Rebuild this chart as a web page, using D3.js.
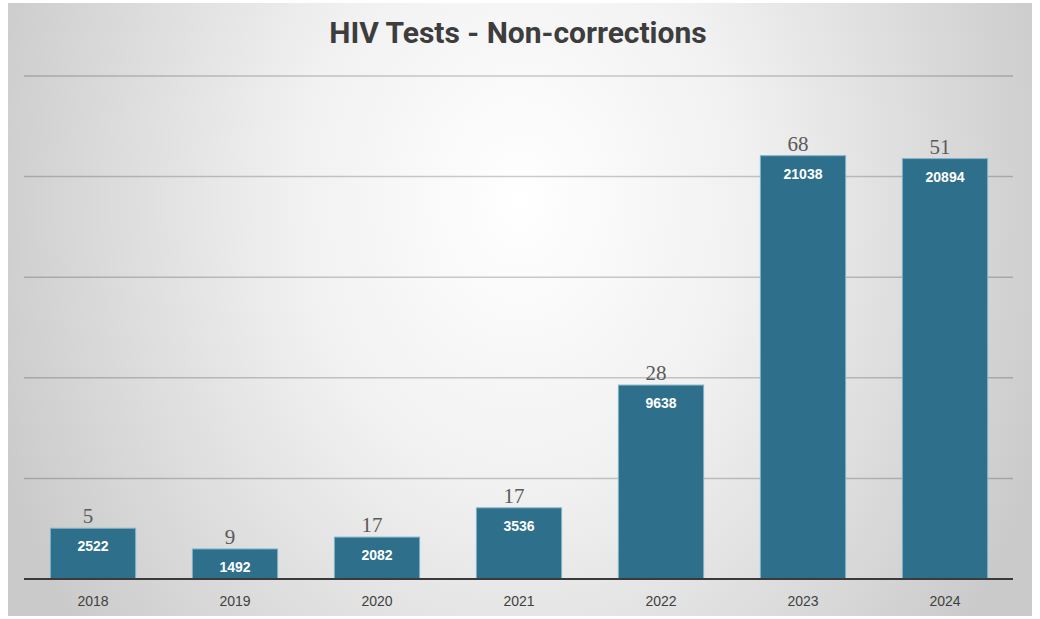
<!DOCTYPE html>
<html>
<head>
<meta charset="utf-8">
<script src="https://cdn.jsdelivr.net/npm/d3@7"></script>
<style>
  body { margin: 0; background: #fff; }
</style>
</head>
<body>
<div id="chart"></div>
<script>
let years = ["2018", "2019", "2020", "2021", "2022", "2023", "2024"]
let tests = [2522, 1492, 2082, 3536, 9638, 21038, 20894]
let positives = [5, 9, 17, 17, 28, 68, 51]
let gridValues = [5000, 10000, 15000, 20000, 25000]

let width = 1040
let height = 619

let svg = d3.select('#chart')
            .append('svg')
            .attr('width', width)
            .attr('height', height)

// soft radial backdrop, white near the top centre
let defs = svg.append('defs')
let grad = defs.append('radialGradient')
    .attr('id', 'bg')
    .attr('gradientUnits', 'userSpaceOnUse')
    .attr('cx', 0).attr('cy', 0).attr('r', 1)
    .attr('gradientTransform', 'translate(520,200) scale(560,720)')
grad.append('stop').attr('offset', '0%').attr('stop-color', '#ffffff')
grad.append('stop').attr('offset', '40%').attr('stop-color', '#f1f1f1')
grad.append('stop').attr('offset', '100%').attr('stop-color', '#cacaca')

svg.append('rect')
    .attr('x', 8).attr('y', 3)
    .attr('width', 1024).attr('height', 613)
    .attr('fill', 'url(#bg)')

let x = d3.scaleBand()
    .domain(years)
    .range([22, 1016])
    .paddingInner(0.4)
    .paddingOuter(0.2)

let y = d3.scaleLinear()
    .domain([0, 25000])
    .range([579, 76])

// gridlines
svg.append('g')
    .selectAll('line')
    .data(gridValues)
    .enter()
    .append('line')
    .attr('x1', 24).attr('x2', 1013)
    .attr('y1', d => y(d)).attr('y2', d => y(d))
    .attr('stroke', 'rgba(0,0,0,0.2)')
    .attr('stroke-width', 1.5)

// title
svg.append('text')
    .attr('x', 518)
    .attr('y', 43)
    .attr('text-anchor', 'middle')
    .style('font-family', 'Roboto, sans-serif')
    .style('font-weight', 'bold')
    .style('font-size', '30px')
    .style('fill', '#3d3d3d')
    .text('HIV Tests - Non-corrections')

// bars
let bars = svg.append('g')
    .selectAll('g')
    .data(years)
    .enter()
    .append('g')

bars.append('rect')
    .attr('x', d => x(d))
    .attr('width', x.bandwidth())
    .attr('y', (d, i) => y(tests[i]))
    .attr('height', (d, i) => y(0) - y(tests[i]))
    .attr('fill', '#2e6f8c')
    .attr('stroke', '#7fb2c8')
    .attr('stroke-width', 1)

bars.append('text')
    .attr('x', d => x(d) + x.bandwidth() / 2)
    .attr('y', (d, i) => y(tests[i]) + 23)
    .attr('text-anchor', 'middle')
    .style('font-family', '"Liberation Sans", Arial, sans-serif')
    .style('font-weight', 'bold')
    .style('font-size', '14px')
    .style('fill', '#ffffff')
    .text((d, i) => tests[i])

bars.append('text')
    .attr('x', d => x(d) + x.bandwidth() / 2 - 5)
    .attr('y', (d, i) => y(tests[i]) - 5)
    .attr('text-anchor', 'middle')
    .style('font-family', '"Liberation Serif", "Times New Roman", serif')
    .style('font-size', '21px')
    .style('fill', '#5a5a5a')
    .text((d, i) => positives[i])

// baseline
svg.append('line')
    .attr('x1', 24).attr('x2', 1013)
    .attr('y1', y(0)).attr('y2', y(0))
    .attr('stroke', '#3a3a3a')
    .attr('stroke-width', 2)

// x axis labels
let xAxis = d3.axisBottom(x).tickSize(0).tickPadding(0)
let gx = svg.append('g')
    .attr('transform', 'translate(0,' + 596 + ')')
    .call(xAxis)
gx.select('.domain').remove()
gx.selectAll('text')
    .style('font-family', '"Liberation Sans", Arial, sans-serif')
    .style('font-size', '14px')
    .style('fill', '#404040')
</script>
</body>
</html>
